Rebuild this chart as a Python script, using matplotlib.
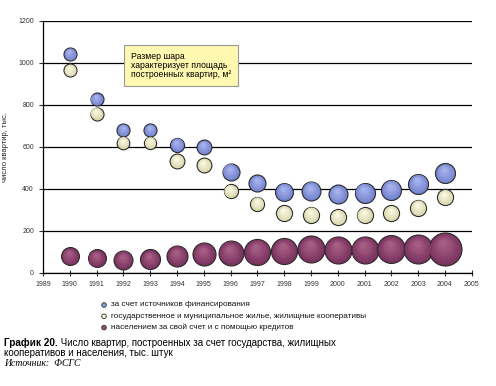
import numpy as np
import matplotlib
matplotlib.use("Agg")
from matplotlib import pyplot
from matplotlib.colors import to_rgb
from matplotlib.patches import Circle
from matplotlib.transforms import ScaledTranslation

years = list(range(1990, 2005))
funded = [1043, 827, 681, 681, 610, 600, 481, 428, 387, 390, 375, 382, 397, 425, 475]
public = [965, 759, 620, 620, 532, 513, 389, 329, 284, 278, 265, 275, 284, 311, 360]
private = [80, 70, 62, 65, 80, 90, 94, 101, 105, 113, 108, 110, 113, 114, 116]

# bubble size = built floor area (relative units)
funded_area = [17, 17, 17, 17, 20, 22, 29, 29, 32, 36, 36, 40, 40, 40, 40]
public_area = [17, 17, 16, 15, 22, 22, 20, 20, 26, 26, 26, 26, 26, 26, 26]
private_area = [32, 32, 36, 40, 44, 53, 62, 68, 68, 73, 73, 73, 78, 84, 109]

labels = ["за счет источников финансирования",
          "государственное и муниципальное жилье, жилищные кооперативы",
          "населением за свой счет и с помощью кредитов"]

pyplot.rcParams['font.family'] = ['Liberation Sans', 'DejaVu Sans']

fig = pyplot.figure(figsize=(4.96, 3.86), dpi=100)
ax = fig.add_axes([0.0867, 0.293, 0.8643, 0.6526])


def mix(c1, c2, t):
    a = np.array(to_rgb(c1))
    b = np.array(to_rgb(c2))
    return tuple(a * (1 - t) + b * t)


def spheres(xs, ys, areas, outer, inner, z):
    for x, y, a in zip(xs, ys, areas):
        d = np.sqrt(a * 10) * 0.72  # diameter in points
        ax.scatter([x], [y], s=d ** 2, color=outer, edgecolor="#2b2b2b",
                   linewidth=0.8, zorder=z)
        n = 6
        for k in range(1, n + 1):
            f = 1 - k * 0.13
            dy = (1 - f) * d / 2 * 0.45 / 72.0
            tr = ax.transData + ScaledTranslation(-dy * 0.3, dy, fig.dpi_scale_trans)
            ax.scatter([x], [y], s=(d * f) ** 2, color=mix(outer, inner, k / n),
                       linewidth=0, zorder=z + 0.01 * k, transform=tr)


spheres(years, funded, funded_area, "#7584CF", "#A6B1EC", 3)
spheres(years, public, public_area, "#DAD8AE", "#F8F7E2", 3)
spheres(years, private, private_area, "#7B3360", "#A65D84", 3)

ax.set_xlim(1989, 2005)
ax.set_ylim(0, 1200)
ax.set_xticks(range(1989, 2006))
ax.set_yticks(range(0, 1201, 200))
ax.tick_params(labelsize=5, colors="#333333", length=3, width=0.8)
ax.tick_params(axis="x", direction="inout", length=4)
for t in ax.get_xticklabels() + ax.get_yticklabels():
    t.set_color("#333333")
ax.yaxis.grid(True, color="black", linewidth=0.9)
ax.set_axisbelow(True)
for s in ["top", "right"]:
    ax.spines[s].set_visible(False)
ax.spines["left"].set_linewidth(0.9)
ax.spines["bottom"].set_linewidth(0.9)
ax.set_ylabel("число квартир, тыс.", fontsize=5.5, color="#222222", labelpad=7)

ax.text(0.205, 0.878,
        "Размер шара\nхарактеризует площадь\nпостроенных квартир, м²",
        transform=ax.transAxes, fontsize=6.2, va="top", ha="left",
        linespacing=1.0, zorder=10,
        bbox=dict(boxstyle="square,pad=0.8", facecolor="#FFF8B0",
                  edgecolor="#999999", linewidth=0.8))

# legend
colors = ["#8C9BDC", "#F0EECB", "#934A73"]
for i, (lab, c) in enumerate(zip(labels, colors)):
    yy = 1 - (305 + i * 11.3) / 386
    fig.patches.append(Circle((104, yy * 386), 2.3, transform=None,
                              facecolor=c, edgecolor="#333333", linewidth=0.6))
    fig.text(111 / 496, yy, lab, fontsize=5.9, color="#111111", va="center", ha="left")

bold = fig.text(4 / 496, 1 - 343 / 386, "График 20.", fontsize=7.2, va="center",
                weight="bold")
ax.annotate(" Число квартир, построенных за счет государства, жилищных",
            xy=(1, 0.5), xycoords=bold, fontsize=7, va="center", ha="left",
            annotation_clip=False)
fig.text(4 / 496, 1 - 353 / 386, "кооперативов и населения, тыс. штук",
         fontsize=7, va="center")
fig.text(4 / 496, 1 - 363 / 386, "Источник:  ФСГС", fontsize=7, va="center",
         family="Liberation Serif", style="italic")

fig.savefig("out.png", dpi=100)
